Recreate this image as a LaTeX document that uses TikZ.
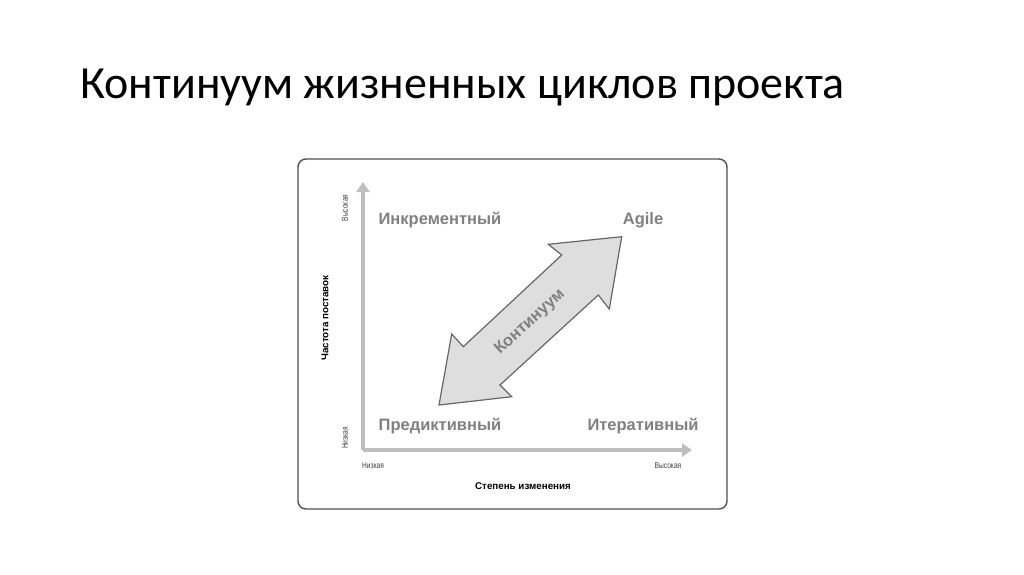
\documentclass[tikz,border=0pt]{standalone}
\usepackage{fontspec}
\setmainfont{Liberation Sans}
\newfontfamily\titlefont{Carlito}
\newfontfamily\narrowfont[FakeStretch=0.78]{Liberation Sans}
\usetikzlibrary{arrows.meta}
\definecolor{quadgray}{HTML}{808080}
\definecolor{axisgray}{HTML}{BEBEBE}
\definecolor{framegray}{HTML}{505050}
\definecolor{arrowfill}{HTML}{DEDEDE}
\tikzstyle{quad} = [text=quadgray, inner sep=0pt, font={\bfseries\fontsize{16.5}{19}\selectfont}]
\tikzstyle{endlabel} = [text=black!75, inner sep=0pt, font={\narrowfont\fontsize{8.5}{10}\selectfont}]
\tikzstyle{axislabel} = [inner sep=0pt, font={\bfseries\fontsize{9.8}{12}\selectfont}]
\tikzstyle{axis} = [draw=axisgray, line width=3.5pt, -{Triangle[width=13pt,length=10pt]}]

\begin{document}
\begin{tikzpicture}[x=1pt,y=-1pt]
    \useasboundingbox[fill=white] (0,0) rectangle (1024,574);
    \node[anchor=base west, inner sep=0pt, font={\titlefont\fontsize{46}{52}\selectfont}](title) at (80,98){Континуум жизненных циклов проекта};
    \draw[framegray, line width=1.4pt, rounded corners=8pt] (298,159) rectangle (727,509);
    \coordinate (o) at (363,450);
    \coordinate (ytop) at (363,182);
    \coordinate (xend) at (692,450);
    \draw[axis] (o)--(ytop);
    \draw[axis] (o)--(xend);
    \node[endlabel,rotate=90](yhigh) at (345,208){Высокая};
    \node[endlabel,rotate=90](ylow) at (345,438){Низкая};
    \node[axislabel,rotate=90](ylabel) at (325,318){Частота поставок};
    \node[endlabel](xlow) at (373,466){Низкая};
    \node[endlabel](xhigh) at (668,466){Высокая};
    \node[axislabel](xlabel) at (523,486){Степень изменения};
    \node[quad](inc) at (440,220){Инкрементный};
    \node[quad](agile) at (643,220){Agile};
    \node[quad](pred) at (440,426){Предиктивный};
    \node[quad](iter) at (643,426){Итеративный};
    % double arrow
    \draw[draw=black!60, fill=arrowfill, line width=1.2pt, line join=miter]
      (621.7,236.7)--(548.3,244.3)--(561.7,255)--(463.3,346.7)--(451.7,334)--(439,405)
      --(511.7,396.7)--(500,385)--(598.3,295)--(609.3,309)--cycle;
    \node[quad,rotate=42.5](cont) at (530,322){Континуум};
  \end{tikzpicture}
\end{document}
